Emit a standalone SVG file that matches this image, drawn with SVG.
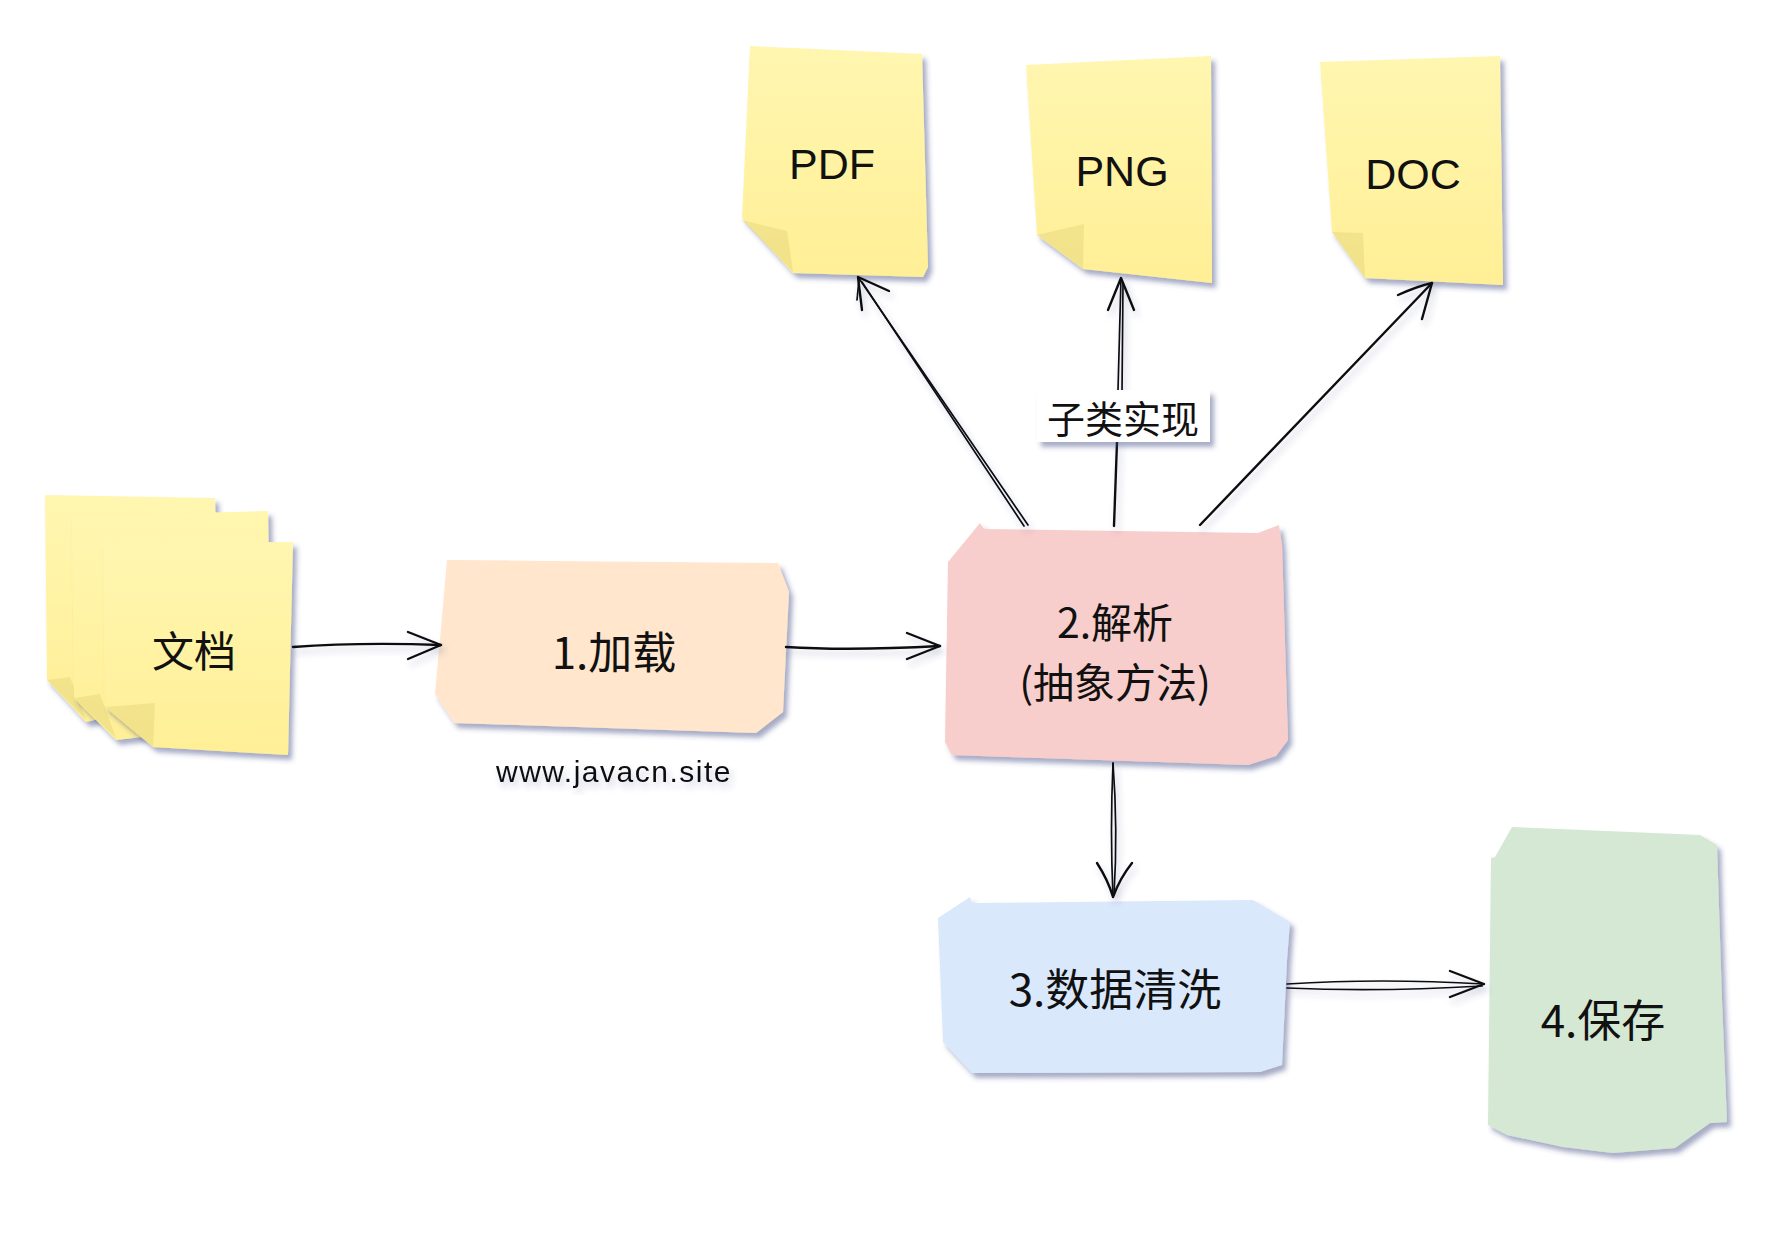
<svg xmlns="http://www.w3.org/2000/svg" width="1781" height="1239" viewBox="0 0 1781 1239">
<defs>
<linearGradient id="yel" x1="0" y1="0" x2="0" y2="1">
<stop offset="0" stop-color="#fff6b0"/>
<stop offset="1" stop-color="#ffef96"/>
</linearGradient>
<filter id="sh" x="-20%" y="-20%" width="140%" height="140%">
<feDropShadow dx="4" dy="5" stdDeviation="2.5" flood-color="#3d4780" flood-opacity="0.45"/>
</filter>
<filter id="lsh" x="-20%" y="-20%" width="140%" height="140%">
<feDropShadow dx="3" dy="5" stdDeviation="3" flood-color="#3d4780" flood-opacity="0.25"/>
</filter>
</defs>
<style>
.note{fill:url(#yel);filter:url(#sh)}
.fold{fill:#e8d880;opacity:0.55}
.t{font-family:"Liberation Sans","Noto Sans CJK SC",sans-serif;fill:#111;text-anchor:middle;dominant-baseline:central}
.cjk{font-family:"Noto Sans CJK SC","Noto Sans",sans-serif;fill:#111;text-anchor:middle;dominant-baseline:central}
.ln{fill:none;stroke:#111;stroke-width:2.4;stroke-linecap:round;stroke-linejoin:round}
.ln2{fill:none;stroke:#111;stroke-width:1.7;stroke-linecap:round}
</style>
<rect width="1781" height="1239" fill="#ffffff"/>

<g id="node-pdf">
<polygon class="note" points="750,46 922,54 928,267 923,277 793,273 742,218"/>
<polygon class="fold" points="742,220 787,231 793,272"/>
<text class="t" x="832" y="164" font-size="43">PDF</text>
</g>

<g id="node-png">
<polygon class="note" points="1026,65 1211,56 1212,283 1083,269 1037,235"/>
<polygon class="fold" points="1037,235 1084,224 1083,269"/>
<text class="t" x="1122" y="171" font-size="43">PNG</text>
</g>

<g id="node-doc">
<polygon class="note" points="1320,62 1500,56 1503,285 1365,278 1332,232"/>
<polygon class="fold" points="1332,232 1363,233 1365,278"/>
<text class="t" x="1413" y="174" font-size="43">DOC</text>
</g>

<g id="node-docs">
<polygon class="note" points="45,495 215,498 220,690 86,722 47,680"/>
<polygon class="fold" points="47,680 70,677 86,720"/>
<polygon class="note" points="72,516 268,511 272,722 116,740 74,698"/>
<polygon class="fold" points="74,698 100,694 116,738"/>
<polygon class="note" points="103,543 293,542 288,755 153,747 105,707"/>
<polygon class="fold" points="105,707 155,703 153,747"/>
<text class="cjk" x="194" y="648" font-size="42">文档</text>
</g>

<g id="node-load">
<polygon fill="#ffe6cc" filter="url(#sh)" points="447,560 778,563 789,592 783,712 756,733 454,723 435,694 440,640"/>
<text class="cjk" x="614" y="650" font-size="44">1.加载</text>
</g>

<g id="label-site">
<text class="t" x="614" y="771" font-size="30" letter-spacing="1.5" filter="url(#lsh)">www.javacn.site</text>
</g>

<g id="node-parse">
<polygon fill="#f8cecc" filter="url(#sh)" points="980,523 984,529 1258,533 1279,525 1282,545 1288,740 1276,756 1248,765 952,755 945,742 948,562"/>
<text class="cjk" x="1115" y="620" font-size="41">2.解析</text>
<text class="cjk" x="1115" y="680" font-size="41">(抽象方法)</text>
</g>

<g id="node-clean">
<polygon fill="#dae8fc" filter="url(#sh)" points="938,918 970,897 972,903 1253,900 1290,922 1287,960 1282,1065 1260,1072 972,1073 943,1042"/>
<text class="cjk" x="1115" y="987" font-size="44">3.数据清洗</text>
</g>

<g id="node-save">
<polygon fill="#d5e8d4" filter="url(#sh)" points="1512,827 1700,835 1717,845 1722,1000 1727,1122 1710,1123 1675,1148 1613,1153 1563,1147 1507,1135 1488,1125 1491,858 1495,857"/>
<text class="cjk" x="1603" y="1018" font-size="44">4.保存</text>
</g>

<g id="connectors" filter="url(#lsh)">
<path class="ln" d="M293,647 Q360,642 441,645"/>
<path class="ln" d="M408,632 L441,645 L408,659"/>
<path class="ln" d="M786,647 Q850,651 940,646"/>
<path class="ln" d="M907,633 L940,646 L907,659"/>
<path class="ln2" d="M1028,525 L858,277"/>
<path class="ln2" d="M1024,526 L862,282"/>
<path class="ln" d="M862,310 L858,277 L889,291"/>
<path class="ln2" d="M857,300 L859,279"/>
<path class="ln" d="M1114,526 L1117,442"/>
<path class="ln2" d="M1118,390 L1121,278"/>
<path class="ln2" d="M1122,392 L1123,284"/>
<path class="ln" d="M1108,310 L1121,278 L1134,310"/>
<path class="ln" d="M1200,525 L1432,283"/>
<path class="ln" d="M1398,295 Q1418,286 1432,283 L1422,319"/>
<path class="ln2" d="M1113,763 Q1110,830 1113,897"/>
<path class="ln2" d="M1113,763 Q1118,830 1114,895"/>
<path class="ln" d="M1097,863 Q1108,880 1113,897 Q1120,878 1132,863"/>
<path class="ln2" d="M1287,984 Q1380,978 1484,984"/>
<path class="ln2" d="M1287,988 Q1380,992 1482,986"/>
<path class="ln" d="M1450,971 L1484,984 L1450,997"/>
</g>

<g id="label-subclass">
<rect x="1037" y="390" width="173" height="52" fill="#ffffff" filter="url(#sh)"/>
<text class="cjk" x="1123" y="416" font-size="38">子类实现</text>
</g>
</svg>
